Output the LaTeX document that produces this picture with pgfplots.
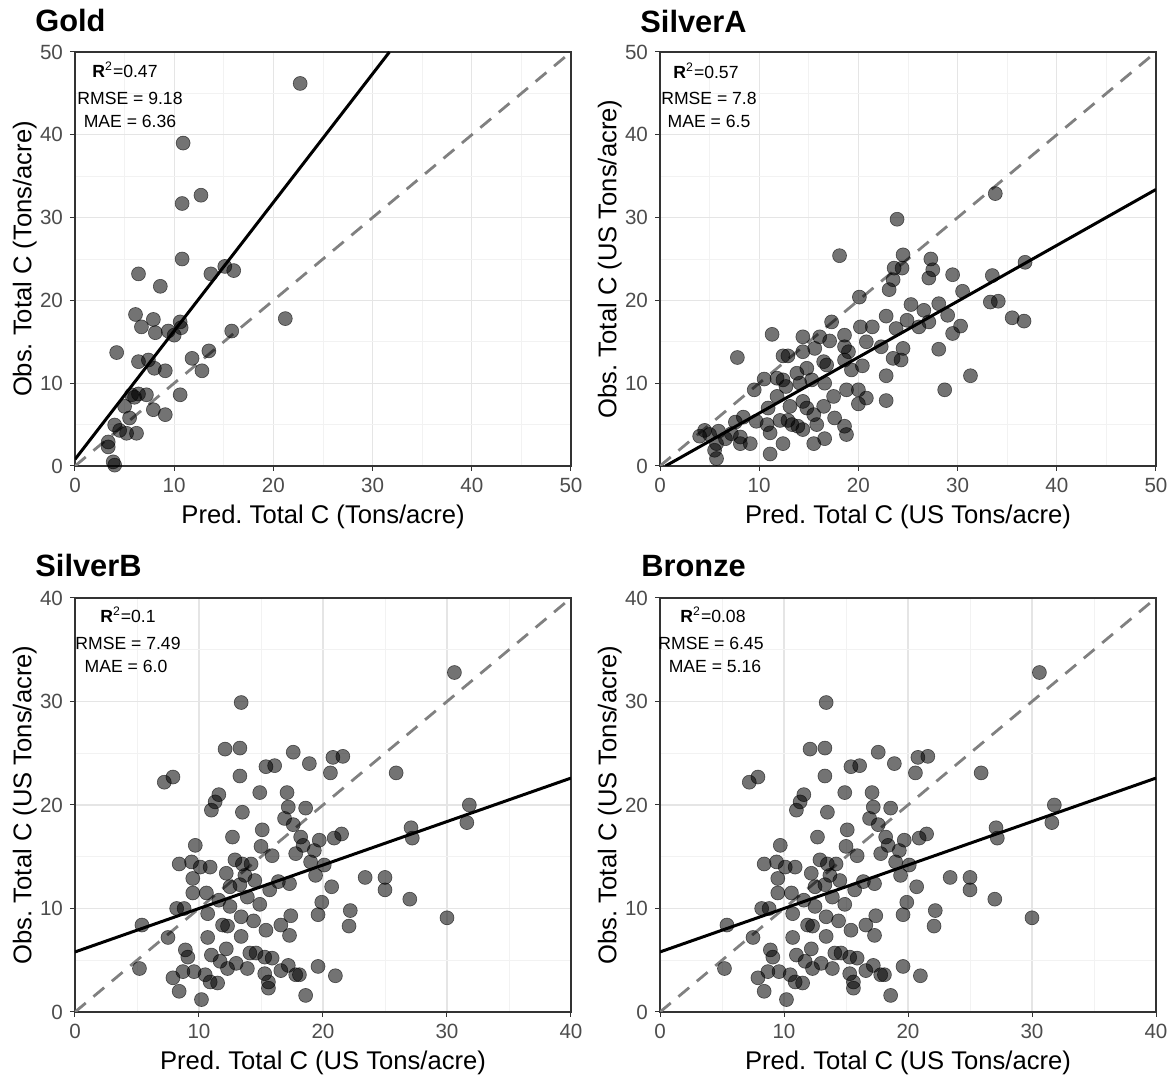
\documentclass[border=0pt]{standalone}
\usepackage{fontspec}
\setmainfont{Liberation Sans}
\usepackage{pgfplots}
\pgfplotsset{compat=1.18}
\usepackage{pgfplotstable}
\frenchspacing

\definecolor{gridc}{gray}{0.90}
\definecolor{gridm}{gray}{0.95}
\definecolor{tickc}{gray}{0.30}
\definecolor{framec}{gray}{0.20}
\definecolor{dashc}{gray}{0.50}

\pgfplotstableread{
x y
22.7 46.2
10.9 39.0
12.7 32.7
10.8 31.7
10.8 25.0
6.4 23.2
13.7 23.2
15.1 24.1
16.0 23.6
8.6 21.7
21.2 17.8
6.1 18.3
7.9 17.7
6.7 16.8
8.1 16.1
9.4 16.3
10.0 15.8
10.6 17.4
10.7 16.7
15.8 16.3
4.2 13.7
11.8 13.0
13.5 13.9
12.8 11.5
6.4 12.6
7.4 12.8
8.0 11.8
9.1 11.5
10.6 8.6
5.7 8.6
6.4 8.7
7.2 8.6
6.0 8.3
5.0 7.2
7.9 6.8
9.1 6.2
5.5 5.8
4.0 4.95
5.2 3.95
6.2 3.95
4.5 4.3
3.35 2.9
3.35 2.3
3.85 0.5
4.0 0.1
}\gold

\pgfplotstableread{
x y
18.1 25.4
17.3 17.4
11.3 15.9
14.4 15.6
16.1 15.6
17.1 15.1
18.6 15.8
7.8 13.1
12.4 13.3
12.9 13.3
14.4 13.8
15.6 14.2
16.5 12.6
16.8 12.2
18.6 14.4
18.6 12.8
10.5 10.5
9.5 9.2
11.8 10.6
12.4 10.4
12.7 9.6
13.8 11.2
14.8 11.8
14.1 10.0
15.3 10.4
16.6 10.0
17.5 8.4
18.8 9.2
11.8 8.4
10.9 7.0
13.1 7.2
14.4 7.8
14.8 7.0
16.5 7.2
15.5 6.2
12.1 5.5
12.9 5.5
13.3 5.0
13.9 4.8
14.4 4.4
15.8 5.0
17.6 5.8
18.6 4.8
18.8 3.8
9.7 5.4
10.8 5.0
11.1 4.0
12.4 2.7
15.5 2.7
16.6 3.3
11.1 1.45
8.4 5.9
7.6 5.3
7.2 3.9
8.1 3.5
8.1 2.7
9.1 2.7
6.6 3.3
4.5 4.3
5.0 3.8
4.0 3.6
5.7 2.7
5.5 1.9
5.7 0.9
5.9 4.2
33.8 32.9
23.9 29.8
24.5 25.5
23.6 23.9
24.4 23.9
23.5 22.5
23.1 21.3
27.3 25.0
27.5 23.7
27.1 22.7
29.5 23.1
20.1 20.4
33.5 23.0
36.8 24.6
30.5 21.1
33.3 19.8
34.1 19.9
35.5 17.9
36.7 17.5
25.3 19.5
26.6 18.8
28.1 19.6
29.0 18.2
27.1 17.4
26.1 16.8
24.9 17.6
30.3 16.9
29.5 16.0
22.8 18.1
21.4 16.8
20.2 16.8
23.8 16.6
20.8 15.0
22.3 14.4
24.5 14.2
23.5 13.0
24.3 12.8
28.1 14.1
20.4 12.1
19.3 11.6
22.8 10.9
31.3 10.9
28.7 9.2
20.0 9.2
20.8 8.2
20.0 7.5
22.8 7.9
19.0 13.8
}\silvera

\pgfplotstableread{
x y
13.4 29.9
12.1 25.4
13.3 25.5
17.6 25.1
15.4 23.7
16.1 23.8
7.2 22.2
7.9 22.7
13.3 22.8
11.6 21.0
11.3 20.3
11.0 19.5
14.9 21.2
17.1 21.2
13.5 19.3
17.2 19.8
18.6 19.7
16.9 18.7
17.6 18.1
15.1 17.6
12.7 16.9
18.2 16.9
18.4 16.1
15.0 16.0
15.9 15.1
17.8 15.3
9.7 16.1
8.4 14.3
9.4 14.5
10.1 14.0
10.9 14.0
9.5 12.9
12.9 14.7
13.5 14.3
14.2 14.3
12.2 13.4
13.7 13.2
14.5 12.7
12.5 12.1
13.3 12.3
16.4 12.6
17.3 12.4
15.7 11.8
9.5 11.5
10.6 11.5
11.6 10.8
13.9 11.1
14.9 10.4
8.2 10.0
8.8 10.0
10.7 9.5
12.5 10.2
5.4 8.4
7.5 7.2
10.7 7.2
11.9 8.4
12.3 8.3
13.4 9.2
14.4 8.8
15.4 7.9
16.6 8.4
17.4 9.3
17.3 7.4
13.4 7.3
5.2 4.2
8.9 6.0
9.1 5.3
11.0 5.5
12.2 6.1
11.7 4.9
12.3 4.2
13.0 4.7
14.1 5.7
14.6 5.7
15.3 5.3
15.9 5.2
16.6 4.0
17.2 4.5
17.8 3.6
13.9 4.2
7.9 3.3
8.7 3.9
9.6 3.9
10.5 3.6
10.9 2.9
11.5 2.8
8.4 2.0
10.2 1.2
15.3 3.7
15.6 2.9
15.6 2.3
18.6 1.6
30.6 32.8
18.9 24.0
20.8 24.6
21.6 24.7
20.6 23.1
25.9 23.1
31.8 20.0
31.6 18.3
27.1 17.8
27.2 16.8
19.7 16.6
20.9 16.8
21.5 17.2
19.3 15.6
19.0 14.5
20.1 14.2
19.4 13.2
23.4 13.0
25.0 13.0
25.0 11.8
20.7 12.1
27.0 10.9
19.9 10.6
19.6 9.4
22.2 9.8
22.1 8.3
30.0 9.1
19.6 4.4
21.0 3.5
18.1 3.6
}\silverb

\pgfplotsset{
  panel/.style={
    scale only axis, width=248pt, height=207pt,
    axis line style={framec, line width=0.6pt},
    grid=both,
    major grid style={gridc, line width=0.6pt},
    minor grid style={gridm, line width=0.4pt},
    minor tick num=1,
    tick align=outside,
    tick pos=left,
    major tick length=2.5pt,
    minor tick length=0pt,
    tick style={framec, line width=0.5pt},
    ticklabel style={font=\fontsize{10.3}{12}\selectfont, text=tickc},
    /pgf/number format/assume math mode=true,
    label style={font=\fontsize{12.8}{15}\selectfont},
    xlabel style={at={(axis description cs:0.5,0)}, anchor=north, yshift=-19.5pt, inner sep=0pt},
    ylabel style={at={(axis description cs:0,0.5)}, anchor=south, yshift=19pt, inner sep=0pt},
  },
  pts/.style={only marks, mark=*, mark size=3.5pt,
    mark options={fill=black, fill opacity=0.55, draw=black, draw opacity=0.6, line width=0.3pt}},
  oneline/.style={dashc, line width=1.4pt, dash pattern=on 7pt off 5pt},
  fitline/.style={black, line width=1.5pt},
}

\newcommand{\ann}[2]{%
  \node[anchor=base, font=\fontsize{8.8}{10}\selectfont, inner sep=0pt] at (#1) {#2};}

\begin{document}
\begin{tikzpicture}
\path[use as bounding box] (0,0) rectangle (587.5pt,539.5pt);

% Gold
\begin{axis}[panel, at={(37.5pt,306.5pt)}, anchor=south west,
  xmin=0, xmax=50, ymin=0, ymax=50,
  xtick={0,10,...,50}, ytick={0,10,...,50},
  xlabel={Pred. Total C (Tons/acre)}, ylabel={Obs. Total C (Tons/acre)}]
\addplot[pts] table[x=x,y=y] {\gold};
\addplot[oneline] coordinates {(0,0) (50,50)};
\addplot[fitline] coordinates {(0,0.8) (31.7,50)};
\end{axis}

% SilverA
\begin{axis}[panel, at={(330pt,306.5pt)}, anchor=south west,
  xmin=0, xmax=50, ymin=0, ymax=50,
  xtick={0,10,...,50}, ytick={0,10,...,50},
  xlabel={Pred. Total C (US Tons/acre)}, ylabel={Obs. Total C (US Tons/acre)}]
\addplot[pts] table[x=x,y=y] {\silvera};
\addplot[oneline] coordinates {(0,0) (50,50)};
\addplot[fitline] coordinates {(0.56,0) (50,33.4)};
\end{axis}

% SilverB
\begin{axis}[panel, at={(37.5pt,33.5pt)}, anchor=south west,
  xmin=0, xmax=40, ymin=0, ymax=40,
  xtick={0,10,...,40}, ytick={0,10,...,40},
  xlabel={Pred. Total C (US Tons/acre)}, ylabel={Obs. Total C (US Tons/acre)}]
\addplot[pts] table[x=x,y=y] {\silverb};
\addplot[oneline] coordinates {(0,0) (40,40)};
\addplot[fitline] coordinates {(0,5.8) (40,22.6)};
\end{axis}

% Bronze
\begin{axis}[panel, at={(330pt,33.5pt)}, anchor=south west,
  xmin=0, xmax=40, ymin=0, ymax=40,
  xtick={0,10,...,40}, ytick={0,10,...,40},
  xlabel={Pred. Total C (US Tons/acre)}, ylabel={Obs. Total C (US Tons/acre)}]
\addplot[pts] table[x=x,y=y] {\silverb};
\addplot[oneline] coordinates {(0,0) (40,40)};
\addplot[fitline] coordinates {(0,5.8) (40,22.6)};
\end{axis}

% titles
\node[anchor=base west, inner sep=0pt, font=\fontsize{15.4}{18}\selectfont\bfseries] at (17.5pt,523.5pt) {Gold};
\node[anchor=base west, inner sep=0pt, font=\fontsize{15.4}{18}\selectfont\bfseries] at (320pt,523pt) {SilverA};
\node[anchor=base west, inner sep=0pt, font=\fontsize{15.4}{18}\selectfont\bfseries] at (17.5pt,251pt) {SilverB};
\node[anchor=base west, inner sep=0pt, font=\fontsize{15.4}{18}\selectfont\bfseries] at (320.5pt,251pt) {Bronze};

% annotations
\ann{62.5pt,500.5pt}{\textbf{R}\textsuperscript{2}=0.47}
\ann{65pt,487pt}{RMSE = 9.18}
\ann{65pt,475.5pt}{MAE = 6.36}
\ann{353pt,500pt}{\textbf{R}\textsuperscript{2}=0.57}
\ann{354.5pt,487pt}{RMSE = 7.8}
\ann{354.5pt,475.5pt}{MAE = 6.5}
\ann{64pt,228pt}{\textbf{R}\textsuperscript{2}=0.1}
\ann{64pt,214.5pt}{RMSE = 7.49}
\ann{63pt,203pt}{MAE = 6.0}
\ann{356.5pt,228pt}{\textbf{R}\textsuperscript{2}=0.08}
\ann{355.5pt,214.5pt}{RMSE = 6.45}
\ann{357.5pt,203pt}{MAE = 5.16}
\end{tikzpicture}
\end{document}
